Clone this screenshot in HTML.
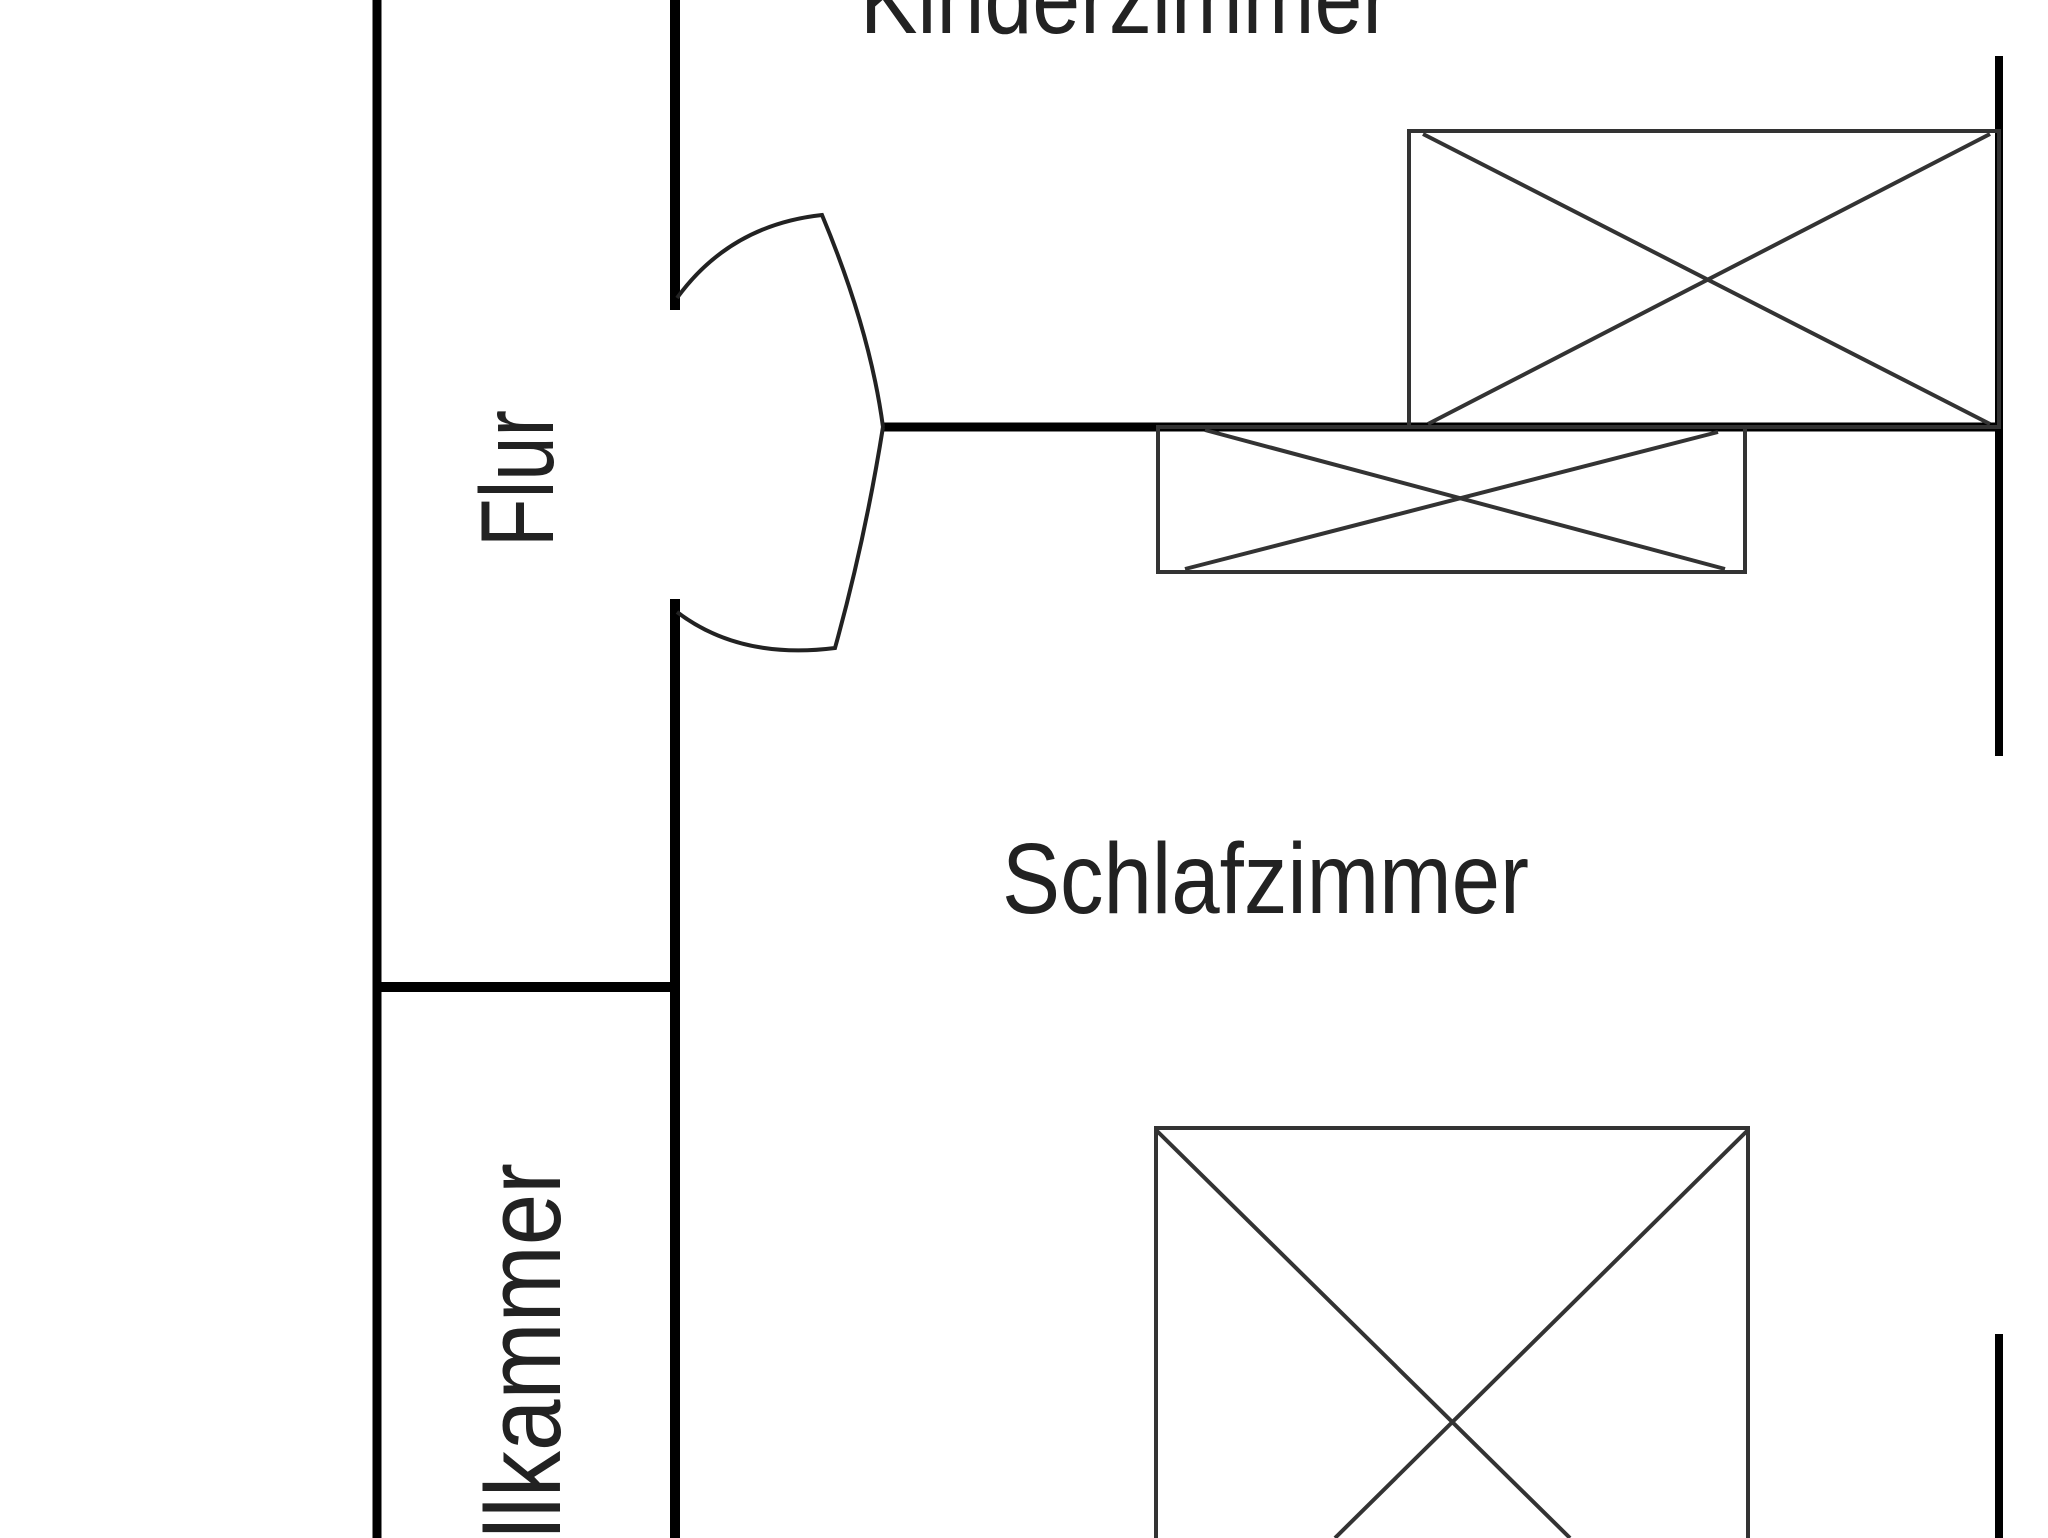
<!DOCTYPE html>
<html><head><meta charset="utf-8"><style>
html,body{margin:0;padding:0;background:#fff;width:2048px;height:1538px;overflow:hidden;}
svg{display:block;}
text{font-family:"Liberation Sans",sans-serif;fill:#222;}
</style></head><body>
<svg width="2048" height="1538" viewBox="0 0 2048 1538" xmlns="http://www.w3.org/2000/svg">
<rect width="2048" height="1538" fill="#fff"/>
<!-- walls -->
<g stroke="#000" fill="none" stroke-linecap="butt">
<line x1="377" y1="0" x2="377" y2="1538" stroke-width="9"/>
<line x1="675" y1="0" x2="675" y2="310" stroke-width="10"/>
<line x1="675" y1="599" x2="675" y2="1538" stroke-width="10"/>
<line x1="377" y1="987" x2="675" y2="987" stroke-width="10"/>
<line x1="883" y1="427" x2="1999" y2="427" stroke-width="9"/>
<line x1="1999" y1="56" x2="1999" y2="756" stroke-width="8"/>
<line x1="1999" y1="1334" x2="1999" y2="1538" stroke-width="8"/>
</g>
<!-- door -->
<g stroke="#222" fill="none" stroke-width="4">
<path d="M677 298 Q730 225 822 215 Q870 330 883 427"/>
<path d="M677 612 Q740 660 835 648 Q865 540 883 427"/>
</g>
<!-- furniture -->
<g stroke="#333" fill="none" stroke-width="4">
<rect x="1409" y="131" width="590" height="296"/>
<line x1="1423" y1="134" x2="1990" y2="424"/>
<line x1="1990" y1="134" x2="1428" y2="424"/>
<rect x="1158" y="427" width="587" height="145"/>
<line x1="1205" y1="430" x2="1725" y2="569"/>
<line x1="1185" y1="569" x2="1718" y2="432"/>
<path d="M1156 1538 L1156 1128 L1748 1128 L1748 1538"/>
<line x1="1156" y1="1130" x2="1570" y2="1538"/>
<line x1="1748" y1="1130" x2="1335" y2="1538"/>
</g>
<!-- labels -->
<text x="860" y="33" font-size="100" textLength="531" lengthAdjust="spacingAndGlyphs">Kinderzimmer</text>
<text x="1002" y="913" font-size="100" textLength="527" lengthAdjust="spacingAndGlyphs">Schlafzimmer</text>
<text transform="translate(553,547) rotate(-90)" x="0" y="0" font-size="104" textLength="137" lengthAdjust="spacingAndGlyphs">Flur</text>
<text transform="translate(560,1775) rotate(-90)" x="0" y="0" font-size="107" textLength="612" lengthAdjust="spacingAndGlyphs">Abstellkammer</text>
</svg>
</body></html>
